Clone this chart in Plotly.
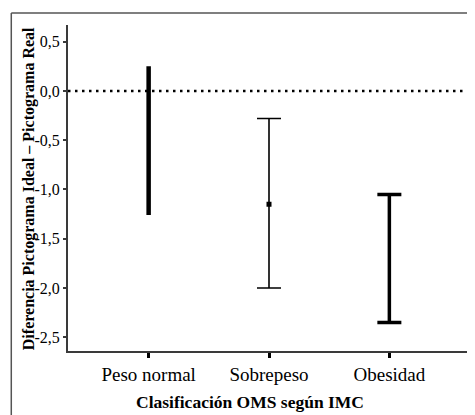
import plotly.graph_objects as go

# ---- data ----
categories = ["Peso normal", "Sobrepeso", "Obesidad"]
means = [-0.50, -1.15, -1.70]
upper = [0.25, -0.28, -1.05]
lower = [-1.26, -2.00, -2.35]
ytick_vals = [0.5, 0.0, -0.5, -1.0, -1.5, -2.0, -2.5]
ytick_text = ["0,5", "0,0", "-0,5", "-1,0", "-1,5", "-2,0", "-2,5"]
x_title = "Clasificación OMS según IMC"
y_title = "Diferencia Pictograma Ideal – Pictograma Real"

# ---- layout geometry (window pixels; page body has an 8px margin) ----
OFF = 8
WIN_W, WIN_H = 475, 415
W, H = WIN_W - OFF, WIN_H - OFF
L, R, T, B = 68, 472, 25, 351          # plot area in window pixels
FONT = "Liberation Serif"
AX = "#3a3a3a"


def px_x(x):
    return (x - L) / (R - L)


def px_y(y):
    return (B - y) / (B - T)


styles = [
    dict(thickness=4.5, width=0, show_marker=False),
    dict(thickness=1.6, width=12, show_marker=True),
    dict(thickness=3.5, width=12, show_marker=False),
]

fig = go.Figure()
for i, cat in enumerate(categories):
    st = styles[i]
    fig.add_trace(go.Scatter(
        x=[i], y=[means[i]], mode="markers",
        marker=dict(symbol="square", size=5, color="black",
                    opacity=1 if st["show_marker"] else 0),
        error_y=dict(type="data", symmetric=False,
                     array=[upper[i] - means[i]],
                     arrayminus=[means[i] - lower[i]],
                     color="black", thickness=st["thickness"], width=st["width"]),
        showlegend=False, hoverinfo="skip",
    ))

# reference dotted line at zero
fig.add_shape(type="line", xref="paper", yref="y", x0=0, x1=1, y0=0, y1=0,
              line=dict(color="black", width=2.5, dash="2.5px,4.5px"), layer="below")

# outer frame (top and left edges)
fig.add_shape(type="line", xref="paper", yref="paper",
              x0=px_x(11), x1=px_x(11), y0=px_y(420), y1=px_y(13),
              line=dict(color="#555555", width=1.5))
fig.add_shape(type="line", xref="paper", yref="paper",
              x0=px_x(11), x1=px_x(480), y0=px_y(13), y1=px_y(13),
              line=dict(color="#555555", width=1.5))

fig.add_annotation(text=f"<b>{y_title}</b>", xref="paper", yref="paper",
                   x=px_x(29), y=px_y(189), textangle=-90, showarrow=False,
                   xanchor="center", yanchor="middle",
                   font=dict(family=FONT, size=16, color="black"))
fig.add_annotation(text=f"<b>{x_title}</b>", xref="paper", yref="paper",
                   x=px_x(251), y=px_y(402), showarrow=False,
                   xanchor="center", yanchor="middle",
                   font=dict(family=FONT, size=17.5, color="black"))

fig.update_layout(
    width=W, height=H,
    margin=dict(l=L - OFF, r=WIN_W - R, t=T - OFF, b=WIN_H - B, pad=0),
    paper_bgcolor="white", plot_bgcolor="white",
    font=dict(family=FONT, color="black"),
    xaxis=dict(
        range=[-0.67, 2.67], tickmode="array", tickvals=list(range(len(categories))),
        ticktext=categories, showgrid=False, zeroline=False,
        showline=True, linecolor=AX, linewidth=2, mirror=False,
        ticks="outside", ticklen=5, tickwidth=3, tickcolor="black",
        tickfont=dict(family=FONT, size=19, color="black"),
    ),
    yaxis=dict(
        range=[-2.64, 0.67], tickmode="array", tickvals=ytick_vals, ticktext=ytick_text,
        showgrid=False, zeroline=False,
        showline=True, linecolor=AX, linewidth=2, mirror=True,
        ticks="outside", ticklen=3, tickwidth=2, tickcolor=AX,
        tickfont=dict(family=FONT, size=16, color="black"),
    ),
)

fig.write_html("out.html")
